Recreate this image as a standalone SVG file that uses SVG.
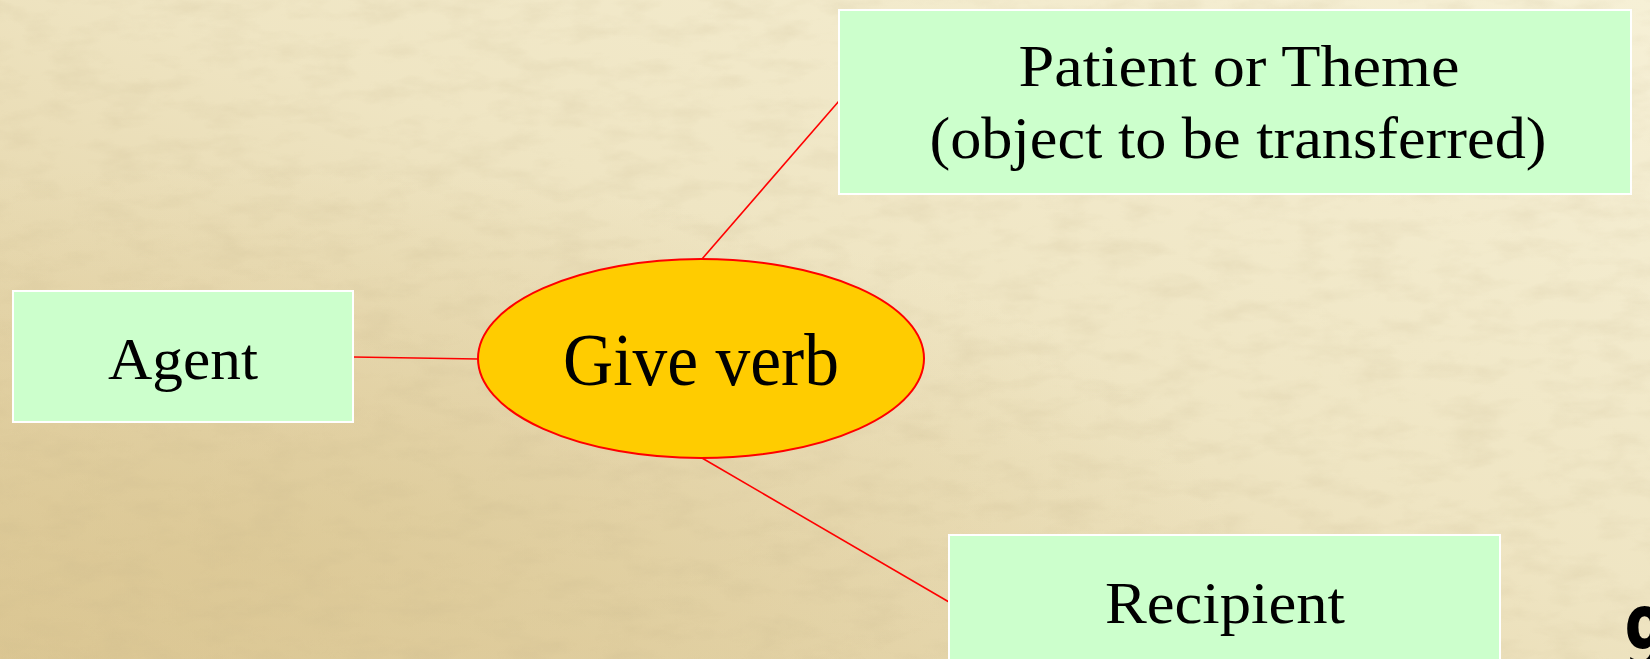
<svg xmlns="http://www.w3.org/2000/svg" width="1650" height="659" viewBox="0 0 1650 659">
  <defs>
    <linearGradient id="parchment" x1="1" y1="0" x2="0" y2="1">
      <stop offset="0" stop-color="#f6f0d6"/>
      <stop offset="0.45" stop-color="#efe5c3"/>
      <stop offset="1" stop-color="#dcc896"/>
    </linearGradient>
    <radialGradient id="warm" cx="0.15" cy="0.85" r="0.6">
      <stop offset="0" stop-color="#d8c28c" stop-opacity="0.5"/>
      <stop offset="1" stop-color="#d8c28c" stop-opacity="0"/>
    </radialGradient>
    <filter id="grain" x="0" y="0" width="100%" height="100%">
      <feTurbulence type="fractalNoise" baseFrequency="0.02 0.05" numOctaves="4" seed="7" result="n"/>
      <feColorMatrix in="n" type="matrix" values="0 0 0 0 0.55  0 0 0 0 0.45  0 0 0 0 0.25  0 0 0 -1.4 0.8"/>
    </filter>
    <style>
      .box { fill: #ccffcc; stroke: #ffffff; stroke-width: 2; }
      .hub { fill: #ffcc00; stroke: #ff0000; stroke-width: 2; }
      .link { stroke: #ff0000; stroke-width: 1.6; fill: none; }
      .lbl { font-family: "Liberation Serif", "Times New Roman", serif; fill: #000000; text-anchor: middle; }
    </style>
  </defs>

  <!-- parchment background -->
  <rect width="1650" height="659" fill="url(#parchment)"/>
  <rect width="1650" height="659" fill="url(#warm)"/>
  <rect width="1650" height="659" filter="url(#grain)" opacity="0.25"/>

  <!-- connectors -->
  <g id="connectors">
    <line class="link" x1="353" y1="357" x2="478" y2="359"/>
    <line class="link" x1="702" y1="259" x2="839" y2="101"/>
    <line class="link" x1="702" y1="458" x2="949" y2="602"/>
  </g>

  <g id="agent">
    <rect class="box" x="13" y="291" width="340" height="131"/>
    <text class="lbl" x="183" y="379" font-size="60" textLength="150" lengthAdjust="spacingAndGlyphs">Agent</text>
  </g>

  <g id="give-verb">
    <ellipse class="hub" cx="701" cy="358.5" rx="223" ry="99.5"/>
    <text class="lbl" x="701" y="385" font-size="74" textLength="276" lengthAdjust="spacingAndGlyphs">Give verb</text>
  </g>

  <g id="patient">
    <rect class="box" x="839" y="10" width="792" height="184"/>
    <text class="lbl" x="1239" y="86" font-size="60" textLength="441" lengthAdjust="spacingAndGlyphs">Patient or Theme</text>
    <text class="lbl" x="1238" y="158" font-size="60" textLength="617" lengthAdjust="spacingAndGlyphs">(object to be transferred)</text>
  </g>

  <g id="recipient">
    <rect class="box" x="949" y="535" width="551" height="130"/>
    <text class="lbl" x="1225" y="623" font-size="60" textLength="240" lengthAdjust="spacingAndGlyphs">Recipient</text>
  </g>

  <!-- slide number, running off the bottom edge -->
  <text transform="translate(1624 670) scale(0.8 1)" font-family="'DejaVu Sans Condensed', 'DejaVu Sans', sans-serif" font-weight="bold" font-size="86" fill="#000000">9</text>
</svg>
